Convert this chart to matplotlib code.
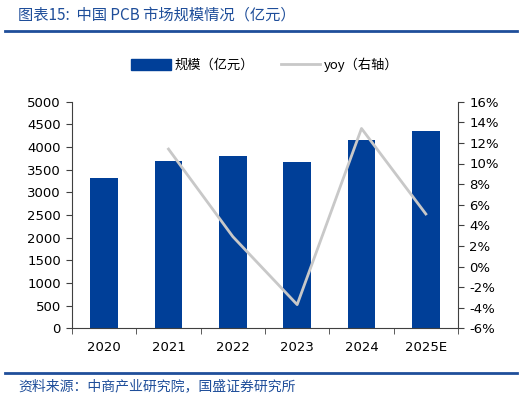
import matplotlib
matplotlib.use("Agg")
import matplotlib.pyplot as plt
from matplotlib.lines import Line2D
from matplotlib.patches import Patch

years = ["2020", "2021", "2022", "2023", "2024", "2025E"]
scale = [3320, 3700, 3810, 3670, 4150, 4350]
yoy_years = ["2021", "2022", "2023", "2024", "2025E"]
yoy = [11.4, 2.9, -3.7, 13.4, 5.1]

left_ticks = list(range(0, 5001, 500))
right_ticks = list(range(-6, 17, 2))

plt.rcParams['font.family'] = ['DejaVu Sans', 'Noto Sans CJK SC']
cjk = ['Noto Sans CJK SC', 'DejaVu Sans']

bar_color = '#003F98'
line_color = '#C8C8C8'
dark_blue = '#1F4E9A'

fig = plt.figure(figsize=(5.26, 3.98), dpi=100)
ax = fig.add_axes([72/526, 1-328.3/398, (458-72)/526, (328.3-101.7)/398])
x = list(range(len(years)))
ax.bar(x, scale, width=0.435, color=bar_color, zorder=2)
ax.set_xlim(-0.5, len(years)-0.5)
ax.set_ylim(0, 5000)
ax.set_yticks(left_ticks)
ax.set_yticklabels([str(t) for t in left_ticks], fontsize=9.5)
ax.set_xticks(x)
ax.set_xticklabels(years, fontsize=9.5)
ax.tick_params(axis='x', length=0, pad=9)
ax.set_xticks([i-0.5 for i in range(len(years)+1)], minor=True)
ax.tick_params(axis='x', which='minor', length=4, direction='out', color='#404040')
ax.tick_params(axis='y', length=4, direction='out', color='#404040', pad=4)
for s in ['top', 'right']:
    ax.spines[s].set_visible(False)
ax.spines['left'].set_color('#404040')
ax.spines['bottom'].set_color('#404040')

ax2 = ax.twinx()
xi = [years.index(y) for y in yoy_years]
ax2.plot(xi, yoy, color=line_color, lw=2, zorder=3)
ax2.set_ylim(-6, 16)
ax2.set_yticks(right_ticks)
ax2.set_yticklabels([f"{t}%" for t in right_ticks], fontsize=9.5)
ax2.tick_params(axis='y', length=4, direction='out', color='#404040', pad=4)
for s in ['top', 'left', 'bottom']:
    ax2.spines[s].set_visible(False)
ax2.spines['right'].set_color('#404040')

handles = [Patch(color=bar_color), Line2D([0], [0], color=line_color, lw=2)]
fig.legend(handles, ['规模（亿元）', 'yoy（右轴）'], loc='center', bbox_to_anchor=(265/526, 1-65/398),
           ncol=2, frameon=False, prop={'family': cjk, 'size': 9.5}, handlelength=3.0,
           handleheight=0.9, columnspacing=2.0, handletextpad=0.3)

fig.text(18/526, 1-15/398, '图表15:  中国 PCB 市场规模情况（亿元）', fontsize=11, color=dark_blue,
         family=cjk, va='center', ha='left', style='italic')
fig.text(18/526, 1-386/398, '资料来源：中商产业研究院，国盛证券研究所', fontsize=10, color=dark_blue,
         family=cjk, va='center', ha='left', style='italic')
fig.add_artist(Line2D([5/526, 517/526], [1-31/398, 1-31/398], color=dark_blue, lw=2))
fig.add_artist(Line2D([5/526, 517/526], [1-373/398, 1-373/398], color=dark_blue, lw=2))

fig.savefig('out.png', dpi=100)
